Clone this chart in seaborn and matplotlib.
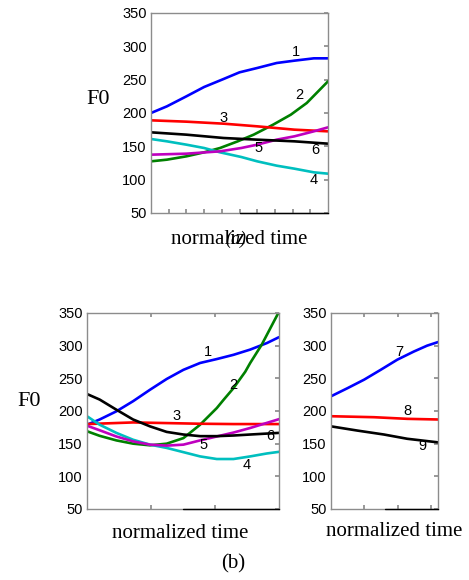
import numpy as np
import pandas as pd
import matplotlib
matplotlib.use("Agg")
import matplotlib.pyplot as plt
import seaborn as sns

sns.set_theme(style="white")
plt.rcParams['font.family'] = ['Liberation Sans', 'DejaVu Sans']

# ---------------- data: panel (a) ----------------
a1_x = [0, .09, .2, .3, .41, .5, .6, .71, .81, .92, 1]
a1_y = [200, 210, 225, 239, 251, 261, 267.5, 275, 278.5, 282, 282]
a2_x = [0, .09, .2, .3, .39, .49, .58, .69, .79, .88, 1]
a2_y = [127.5, 130, 135, 141, 147.5, 157.5, 167.5, 182.5, 197.5, 215, 247.5]
a3_x = [0, .2, .41, .6, .81, 1]
a3_y = [189, 187, 184, 180, 175, 172.5]
a4_x = [0, .09, .2, .3, .39, .51, .6, .71, .81, .92, 1]
a4_y = [161, 157.5, 152.5, 147.5, 141, 134, 127.5, 121, 116.5, 111, 109]
a5_x = [0, .2, .39, .51, .6, .71, .81, .92, 1]
a5_y = [137.5, 139, 142.5, 147.5, 152.5, 160, 165, 172.5, 178.5]
a6_x = [0, .2, .41, .6, .81, 1]
a6_y = [171, 167.5, 162.5, 160, 157.5, 154]
a_label_x = [.82, .84, .41, .92, .61, .93]
a_label_y = [291, 227.5, 192.5, 100, 147.5, 145]
a_names = ["1", "2", "3", "4", "5", "6"]

# ---------------- data: panel (b) left ----------------
b1_x = [0, .066, .153, .24, .328, .415, .502, .589, .676, .763, .85, .937, 1]
b1_y = [179, 187, 199.5, 215, 232.5, 249, 263, 273.5, 279.5, 286, 294, 304, 313]
b2_x = [0, .066, .153, .24, .328, .415, .502, .589, .676, .711, .763, .824, .85, .91, 1]
b2_y = [169, 162, 155, 150, 147.5, 150, 158.5, 179, 204.5, 217, 235, 260, 273.5, 301.5, 352]
b3_x = [0, .24, .415, .589, .763, 1]
b3_y = [180, 182.5, 181.5, 180.5, 180, 180]
b4_x = [0, .066, .153, .24, .328, .415, .502, .589, .676, .763, .85, .937, 1]
b4_y = [192, 179, 166.5, 156, 148.5, 143.5, 137, 130.5, 126.5, 126.5, 130.5, 135, 137.5]
b5_x = [0, .066, .153, .24, .328, .415, .502, .589, .676, .763, .85, 1]
b5_y = [177.5, 170.5, 161, 153.5, 148.5, 147, 148.5, 155, 161, 167, 174, 187.5]
b6_x = [0, .066, .153, .24, .328, .415, .502, .589, .676, .763, .85, 1]
b6_y = [226, 217.5, 202, 187, 176.5, 168, 164, 161.5, 161.5, 162.5, 164, 166.5]
b_label_x = [.632, .763, .467, .833, .606, .955]
b_label_y = [290, 240, 192, 118, 147.5, 162]
b_names = ["1", "2", "3", "4", "5", "6"]

# ---------------- data: panel (b) right ----------------
c7_x = [0, .155, .31, .464, .619, .774, .898, 1]
c7_y = [222.5, 235, 248, 263, 278.5, 291, 300, 305.5]
c8_x = [0, .402, .712, 1]
c8_y = [192, 190.5, 188, 187]
c9_x = [0, .248, .495, .712, 1]
c9_y = [176.5, 170, 164, 157.5, 152]
c_label_x = [.635, .712, .851]
c_label_y = [290, 200.5, 146]
c_names = ["7", "8", "9"]

colors6 = ["#0000ff", "#008000", "#ff0000", "#00bfbf", "#bf00bf", "#000000"]
colors3 = ["#0000ff", "#ff0000", "#000000"]

W, H = 469, 580
fig = plt.figure(figsize=(W / 100, H / 100), dpi=100)


def px_axes(l, t, r, b):
    return fig.add_axes([l / W, (H - b) / H, (r - l) / W, (b - t) / H])


def style(ax, xticks, top_ticks):
    ax.set_xlim(0, 1)
    ax.set_ylim(50, 350)
    ax.set_yticks([50, 100, 150, 200, 250, 300, 350])
    ax.set_xticks(xticks)
    ax.set_xticklabels([])
    ax.set_xlabel("")
    ax.set_ylabel("")
    for s in ax.spines.values():
        s.set_color("#8c8c8c")
        s.set_linewidth(1.0)
    ax.tick_params(axis="y", left=False, right=True, direction="in", length=3,
                   color="#8c8c8c", labelsize=10.5, pad=3, labelcolor="#000000")
    ax.tick_params(axis="x", bottom=True, top=top_ticks, direction="in", length=3,
                   color="#8c8c8c")
    ax.plot([0.5, 1.0], [0, 0], transform=ax.transAxes, color="black", lw=1.0,
            clip_on=False, zorder=5)
    if ax.get_legend() is not None:
        ax.get_legend().remove()


def draw(ax, xs, ys, cols, lx, ly, names):
    for x, y, c in zip(xs, ys, cols):
        df = pd.DataFrame({"t": x, "f0": y})
        sns.lineplot(data=df, x="t", y="f0", ax=ax, color=c, lw=1.9, sort=False)
    for x, y, n in zip(lx, ly, names):
        ax.text(x, y, n, ha="center", va="center", fontsize=10.5, color="#000000")


# panel (a)
ax1 = px_axes(151, 13, 328, 213)
draw(ax1, [a1_x, a2_x, a3_x, a4_x, a5_x, a6_x],
     [a1_y, a2_y, a3_y, a4_y, a5_y, a6_y], colors6, a_label_x, a_label_y, a_names)
style(ax1, np.arange(0.1, 0.95, 0.1), False)

# panel (b) left
ax2 = px_axes(87, 313, 279, 509)
draw(ax2, [b1_x, b2_x, b3_x, b4_x, b5_x, b6_x],
     [b1_y, b2_y, b3_y, b4_y, b5_y, b6_y], colors6, b_label_x, b_label_y, b_names)
style(ax2, [1 / 3, 2 / 3], True)

# panel (b) right
ax3 = px_axes(331, 313, 438, 509)
draw(ax3, [c7_x, c8_x, c9_x], [c7_y, c8_y, c9_y], colors3, c_label_x, c_label_y, c_names)
style(ax3, [0.31, 0.625, 0.935], True)

serif = ["Liberation Serif", "DejaVu Serif"]


def ftext(x, y, s, size, **kw):
    fig.text(x / W, 1 - y / H, s, ha="center", va="center", fontsize=size,
             family=serif, color="#000000", **kw)


ftext(98, 99, "F0", 16)
ftext(29, 402, "F0", 16)
ftext(239, 239, "normalized time", 15)
ftext(236, 239, "(a)", 13, style="italic")
ftext(180, 533, "normalized time", 15)
ftext(394, 532, "normalized time", 15)
ftext(233, 564, "(b)", 15)

fig.savefig("out.png", dpi=100)
